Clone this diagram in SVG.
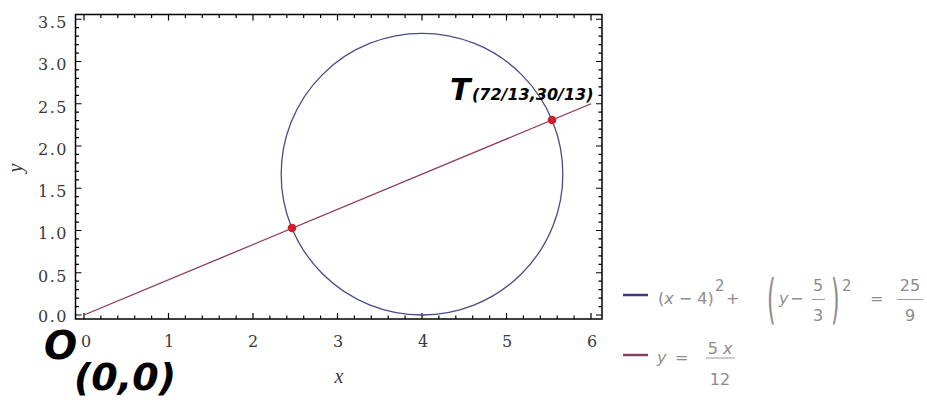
<svg xmlns="http://www.w3.org/2000/svg" width="927" height="400" viewBox="0 0 927 400">
<style>
.tk{stroke:#000;stroke-width:1.2;fill:none}
.num{font-family:"DejaVu Serif",serif;font-size:16px;fill:#3a3a3a}
.ax{font-family:"Liberation Serif",serif;font-style:italic;font-size:20px;fill:#3a3a3a}
.lg{font-family:"DejaVu Sans",sans-serif;font-size:16px;fill:#8c8c8c}
.sup{font-family:"DejaVu Sans",sans-serif;font-size:15px;fill:#8c8c8c}
.it{font-style:italic}
.bar{stroke:#9a9a9a;stroke-width:1}
.big{font-family:"DejaVu Sans",sans-serif;font-weight:bold;font-style:italic;fill:#000}
</style>
<rect width="927" height="400" fill="#fff"/>
<g id="plot-frame">
<rect x="75.5" y="14.5" width="526.5" height="304.5" fill="#fff" stroke="#000" stroke-width="1.5"/>
</g>
<g id="ticks" class="tk">
<path d="M84 319v-6M168.5 319v-6M253 319v-6M337.5 319v-6M422 319v-6M506.5 319v-6M591 319v-6"/>
<path d="M100.9 319v-3.5M117.8 319v-3.5M134.7 319v-3.5M151.6 319v-3.5M185.4 319v-3.5M202.3 319v-3.5M219.2 319v-3.5M236.1 319v-3.5M269.9 319v-3.5M286.8 319v-3.5M303.7 319v-3.5M320.6 319v-3.5M354.4 319v-3.5M371.3 319v-3.5M388.2 319v-3.5M405.1 319v-3.5M438.9 319v-3.5M455.8 319v-3.5M472.7 319v-3.5M489.6 319v-3.5M523.4 319v-3.5M540.3 319v-3.5M557.2 319v-3.5M574.1 319v-3.5"/>
<path d="M84 14.5v6M168.5 14.5v6M253 14.5v6M337.5 14.5v6M422 14.5v6M506.5 14.5v6M591 14.5v6"/>
<path d="M100.9 14.5v3.5M117.8 14.5v3.5M134.7 14.5v3.5M151.6 14.5v3.5M185.4 14.5v3.5M202.3 14.5v3.5M219.2 14.5v3.5M236.1 14.5v3.5M269.9 14.5v3.5M286.8 14.5v3.5M303.7 14.5v3.5M320.6 14.5v3.5M354.4 14.5v3.5M371.3 14.5v3.5M388.2 14.5v3.5M405.1 14.5v3.5M438.9 14.5v3.5M455.8 14.5v3.5M472.7 14.5v3.5M489.6 14.5v3.5M523.4 14.5v3.5M540.3 14.5v3.5M557.2 14.5v3.5M574.1 14.5v3.5"/>
<path d="M75.5 315h6M75.5 272.75h6M75.5 230.5h6M75.5 188.25h6M75.5 146h6M75.5 103.75h6M75.5 61.5h6M75.5 19.25h6"/>
<path d="M75.5 306.55h3.5M75.5 298.1h3.5M75.5 289.65h3.5M75.5 281.2h3.5M75.5 264.3h3.5M75.5 255.85h3.5M75.5 247.4h3.5M75.5 238.95h3.5M75.5 222.05h3.5M75.5 213.6h3.5M75.5 205.15h3.5M75.5 196.7h3.5M75.5 179.8h3.5M75.5 171.35h3.5M75.5 162.9h3.5M75.5 154.45h3.5M75.5 137.55h3.5M75.5 129.1h3.5M75.5 120.65h3.5M75.5 112.2h3.5M75.5 95.3h3.5M75.5 86.85h3.5M75.5 78.4h3.5M75.5 69.95h3.5M75.5 53.05h3.5M75.5 44.6h3.5M75.5 36.15h3.5M75.5 27.7h3.5"/>
<path d="M602 315h-6M602 272.75h-6M602 230.5h-6M602 188.25h-6M602 146h-6M602 103.75h-6M602 61.5h-6M602 19.25h-6"/>
<path d="M602 306.55h-3.5M602 298.1h-3.5M602 289.65h-3.5M602 281.2h-3.5M602 264.3h-3.5M602 255.85h-3.5M602 247.4h-3.5M602 238.95h-3.5M602 222.05h-3.5M602 213.6h-3.5M602 205.15h-3.5M602 196.7h-3.5M602 179.8h-3.5M602 171.35h-3.5M602 162.9h-3.5M602 154.45h-3.5M602 137.55h-3.5M602 129.1h-3.5M602 120.65h-3.5M602 112.2h-3.5M602 95.3h-3.5M602 86.85h-3.5M602 78.4h-3.5M602 69.95h-3.5M602 53.05h-3.5M602 44.6h-3.5M602 36.15h-3.5M602 27.7h-3.5"/>
</g>
<g id="tick-labels" class="num">
<g text-anchor="end" letter-spacing="1.5">
<text x="68" y="28">3.5</text>
<text x="68" y="70">3.0</text>
<text x="68" y="112.5">2.5</text>
<text x="68" y="154.5">2.0</text>
<text x="68" y="197">1.5</text>
<text x="68" y="239">1.0</text>
<text x="68" y="281.5">0.5</text>
<text x="68" y="322">0.0</text>
</g>
<g text-anchor="middle">
<text x="86" y="347">0</text>
<text x="169" y="347">1</text>
<text x="253" y="347">2</text>
<text x="338" y="347">3</text>
<text x="423" y="347">4</text>
<text x="507" y="347">5</text>
<text x="592" y="347">6</text>
</g>
</g>
<g id="axis-titles" class="ax">
<text x="339" y="383" text-anchor="middle">x</text>
<text transform="translate(22,168) rotate(-90)" text-anchor="middle">y</text>
</g>
<g id="circle">
<circle cx="422" cy="174.17" r="140.83" fill="none" stroke="#4a4a8c" stroke-width="1.3"/>
</g>
<g id="line">
<line x1="84" y1="315" x2="591" y2="103.75" stroke="#8b3a50" stroke-width="1.3"/>
</g>
<g id="points" fill="#d01f2c">
<circle cx="292" cy="228" r="4.3"/>
<circle cx="552" cy="120" r="4.3"/>
</g>
<g id="label-T">
<text class="big" x="450" y="100" font-size="30">T</text>
<text class="big" x="472" y="100" font-size="16">(72/13,30/13)</text>
</g>
<g id="label-O">
<text class="big" x="44" y="359" font-size="39">O</text>
<text class="big" x="74" y="390" font-size="38">(0,0)</text>
</g>
<g id="legend">
<line x1="623" y1="295" x2="648" y2="295" stroke="#3b3b7e" stroke-width="2.5"/>
<line x1="623" y1="355" x2="648" y2="355" stroke="#8a4060" stroke-width="2.5"/>
<g class="lg">
<text x="658" y="304">(<tspan class="it">x</tspan> − 4)</text>
<text class="sup" x="715" y="291">2</text>
<text x="726" y="304">+</text>
<text transform="translate(767,317.6) scale(1,2.4)" font-size="22">(</text>
<text class="it" x="779" y="304">y</text>
<text x="790" y="304">−</text>
<text x="818" y="291" text-anchor="middle">5</text>
<text x="818" y="321" text-anchor="middle">3</text>
<text transform="translate(831,317.6) scale(1,2.4)" font-size="22">)</text>
<text class="sup" x="842" y="291">2</text>
<text x="870" y="304">=</text>
<text x="910" y="291" text-anchor="middle">25</text>
<text x="910" y="321" text-anchor="middle">9</text>
<text class="it" x="657" y="363">y</text>
<text x="675" y="363">=</text>
<text x="720" y="354" text-anchor="middle">5 <tspan class="it">x</tspan></text>
<text x="720" y="385" text-anchor="middle">12</text>
</g>
<path class="bar" d="M812 299.5h13M897 299.5h26M706 358h29"/>
</g>
</svg>
